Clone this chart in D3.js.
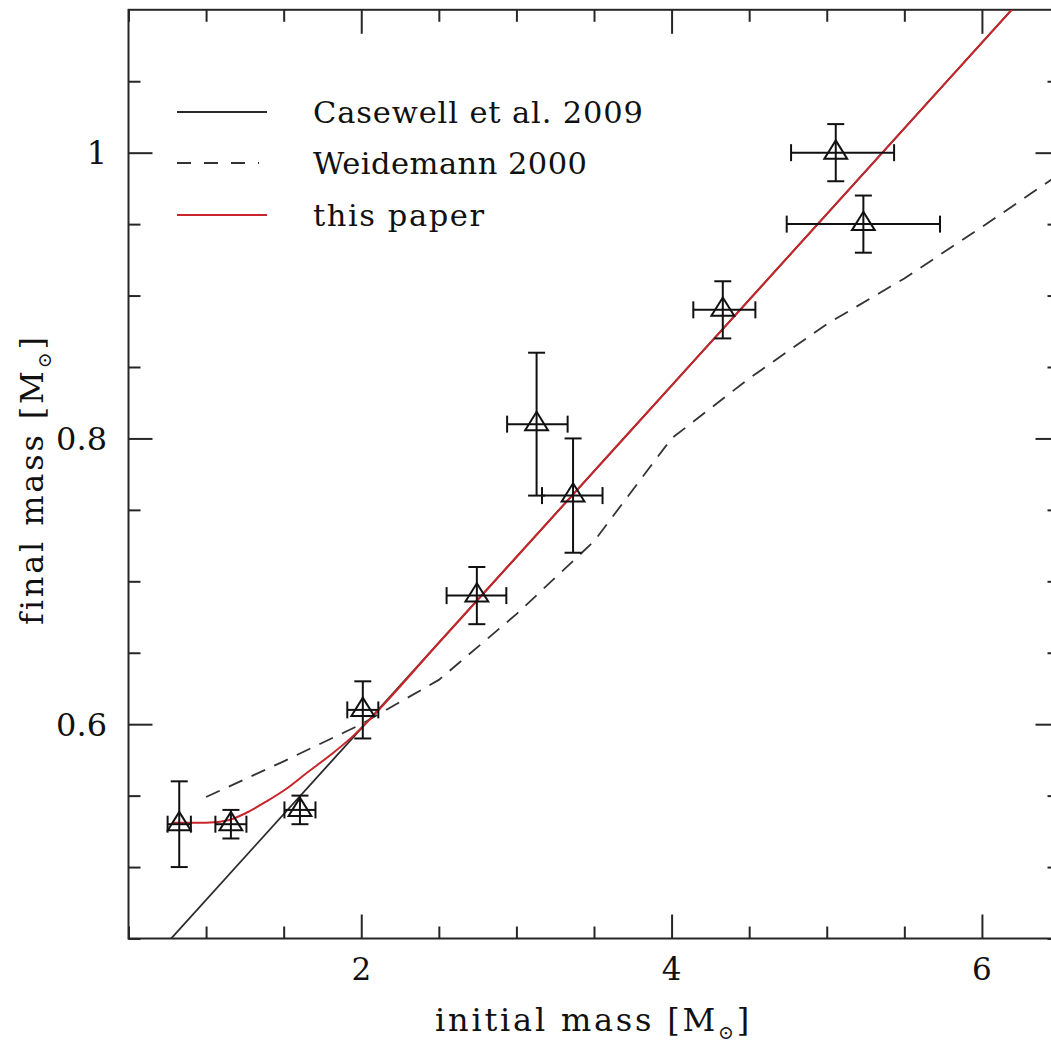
<!DOCTYPE html>
<html><head><meta charset="utf-8">
<script src="https://cdn.jsdelivr.net/npm/d3@7"></script>
<style>body{margin:0;background:#fff}svg{display:block}</style>
</head><body>
<svg id="c" width="1051" height="1043"></svg>
<script>
// ---- data ----
const obsX      = [0.827, 1.16, 1.605, 2.01, 2.745, 3.13, 3.365, 4.33, 5.058, 5.236];
const obsXErrLo = [0.075, 0.10, 0.10, 0.10, 0.195, 0.19, 0.20, 0.19, 0.288, 0.494];
const obsXErrHi = [0.075, 0.10, 0.10, 0.10, 0.190, 0.20, 0.19, 0.21, 0.376, 0.494];
const obsY      = [0.53, 0.53, 0.54, 0.61, 0.69, 0.81, 0.76, 0.89, 1.00, 0.95];
const obsYErr   = [0.03, 0.01, 0.01, 0.02, 0.02, 0.05, 0.04, 0.02, 0.02, 0.02];

const casewellX = [0.5, 6.5];
const casewellY = [0.417, 1.137];

const weidemannX = [1.0, 1.5, 2.0, 2.5, 3.0, 3.5, 4.0, 4.5, 5.0, 5.5, 6.0, 6.5];
const weidemannY = [0.549, 0.574, 0.600, 0.631, 0.677, 0.728, 0.800, 0.842, 0.880, 0.912, 0.948, 0.985];

const thisX = [0.785, 1.0, 1.15, 1.26, 1.39, 1.52, 1.65, 1.82, 1.95, 2.06, 2.5, 3.0, 4.0, 5.0, 6.5];
const thisY = [0.531, 0.531, 0.533, 0.538, 0.546, 0.555, 0.566, 0.580, 0.592, 0.604, 0.657, 0.717, 0.837, 0.957, 1.137];

const xMajor = [2, 4, 6];
const xMinor = [0.5, 1, 1.5, 2.5, 3, 3.5, 4.5, 5, 5.5, 6.5];
const yMajor = [0.6, 0.8, 1.0];
const yMinor = [0.45, 0.5, 0.55, 0.65, 0.7, 0.75, 0.85, 0.9, 0.95, 1.05];
const xTickLabels = ["2", "4", "6"];
const yTickLabels = ["0.6", "0.8", "1"];

const legendLabels = ["Casewell et al. 2009", "Weidemann 2000", "this paper"];
const xTitle = "initial mass";
const yTitle = "final mass";

// ---- layout ----
const svg = d3.select("#c");
const x = d3.scaleLinear().domain([0.5, 6.5]).range([128.5, 1059.5]);
const y = d3.scaleLinear().domain([0.45, 1.1]).range([938.5, 9.8]);
const FONT = "'DejaVu Serif', serif";
const AX = "#262626", RED = "#c8262b", DARK = "#2a2a2a";

svg.append("defs").append("clipPath").attr("id", "clip")
  .append("rect").attr("x", x(0.5)).attr("y", y(1.1))
  .attr("width", x(6.5) - x(0.5)).attr("height", y(0.45) - y(1.1));

// frame
svg.append("rect").attr("x", x(0.5)).attr("y", y(1.1))
  .attr("width", x(6.5) - x(0.5)).attr("height", y(0.45) - y(1.1))
  .attr("fill", "none").attr("stroke", AX).attr("stroke-width", 2);

// ticks (inward, all four sides)
const MAJ = 24, MIN = 12;
function xt(vals, len) {
  svg.append("g").call(d3.axisBottom(x).tickValues(vals).tickSize(-len).tickFormat(""))
    .attr("transform", `translate(0,${y(0.45)})`).call(g => g.select(".domain").remove())
    .selectAll("line").attr("stroke", AX).attr("stroke-width", 2);
  svg.append("g").call(d3.axisTop(x).tickValues(vals).tickSize(-len).tickFormat(""))
    .attr("transform", `translate(0,${y(1.1)})`).call(g => g.select(".domain").remove())
    .selectAll("line").attr("stroke", AX).attr("stroke-width", 2);
}
function yt(vals, len) {
  svg.append("g").call(d3.axisLeft(y).tickValues(vals).tickSize(-len).tickFormat(""))
    .attr("transform", `translate(${x(0.5)},0)`).call(g => g.select(".domain").remove())
    .selectAll("line").attr("stroke", AX).attr("stroke-width", 2);
  svg.append("g").call(d3.axisRight(y).tickValues(vals).tickSize(-len).tickFormat(""))
    .attr("transform", `translate(${x(6.5)},0)`).call(g => g.select(".domain").remove())
    .selectAll("line").attr("stroke", AX).attr("stroke-width", 2);
}
xt(xMajor, MAJ); xt(xMinor, MIN); yt(yMajor, MAJ); yt(yMinor, MIN);

// tick labels
svg.append("g").selectAll("text").data(xMajor).join("text")
  .attr("x", d => x(d)).attr("y", 980).attr("text-anchor", "middle")
  .attr("font-family", FONT).attr("font-size", 31).attr("fill", "#111")
  .text((d, i) => xTickLabels[i]);
svg.append("g").selectAll("text").data(yMajor).join("text")
  .attr("x", 107).attr("y", d => y(d) + 11.5).attr("text-anchor", "end")
  .attr("font-family", FONT).attr("font-size", 32).attr("fill", "#111")
  .text((d, i) => yTickLabels[i]);

// axis titles
function title(g, txt, target) {
  const t = g.append("text").attr("font-family", FONT).attr("font-size", 32).attr("fill", "#111");
  t.append("tspan").text(txt + " [M");
  t.append("tspan").attr("font-size", 19).attr("dy", 8).text("\u2299");
  t.append("tspan").attr("dy", -8).text("]");
  const w = t.node().getComputedTextLength();
  const n = (txt + " [M]").length + 1;
  t.attr("letter-spacing", (target - w) / n);
  return t;
}
title(svg.append("g").attr("transform", "translate(435,1031)"), xTitle, 317);
title(svg.append("g").attr("transform", "translate(43,625) rotate(-90)"), yTitle, 290);

// curves
const plot = svg.append("g").attr("clip-path", "url(#clip)");
const lineGen = d3.line().x(d => x(d[0])).y(d => y(d[1]));
plot.append("path").datum(d3.zip(casewellX, casewellY)).attr("d", lineGen)
  .attr("fill", "none").attr("stroke", DARK).attr("stroke-width", 1.8);
plot.append("path").datum(d3.zip(weidemannX, weidemannY)).attr("d", lineGen)
  .attr("fill", "none").attr("stroke", "#333").attr("stroke-width", 1.8)
  .attr("stroke-dasharray", "15,10");
plot.append("path").datum(d3.zip(thisX, thisY))
  .attr("d", d3.line().x(d => x(d[0])).y(d => y(d[1])).curve(d3.curveMonotoneX))
  .attr("fill", "none").attr("stroke", RED).attr("stroke-width", 2);

// data points with error bars
const CAP = 8.5;
const pts = d3.range(obsX.length).map(i => ({x: obsX[i], xl: obsX[i] - obsXErrLo[i], xh: obsX[i] + obsXErrHi[i], y: obsY[i], ye: obsYErr[i]}));
const pg = svg.append("g").attr("stroke", "#111").attr("stroke-width", 2).attr("fill", "none");
pts.forEach(p => {
  const g = pg.append("g");
  g.append("line").attr("x1", x(p.xl)).attr("x2", x(p.xh)).attr("y1", y(p.y)).attr("y2", y(p.y));
  g.append("line").attr("x1", x(p.x)).attr("x2", x(p.x)).attr("y1", y(p.y - p.ye)).attr("y2", y(p.y + p.ye));
  [p.xl, p.xh].forEach(v => g.append("line").attr("x1", x(v)).attr("x2", x(v)).attr("y1", y(p.y) - CAP).attr("y2", y(p.y) + CAP));
  [p.y - p.ye, p.y + p.ye].forEach(v => g.append("line").attr("y1", y(v)).attr("y2", y(v)).attr("x1", x(p.x) - CAP).attr("x2", x(p.x) + CAP));
});
const tri = {draw(ctx) { ctx.moveTo(0, -12.3); ctx.lineTo(11.4, 6); ctx.lineTo(-11.4, 6); ctx.closePath(); }};
pg.selectAll("path.tri").data(pts).join("path").attr("class", "tri")
  .attr("d", d3.symbol().type(tri))
  .attr("transform", d => `translate(${x(d.x)},${y(d.y)})`);

// legend
const legY = [112, 163, 215];
const legStyle = [{c: DARK, d: null}, {c: "#333", d: "14,13"}, {c: RED, d: null}];
const legW = [330, 274, 171];
legendLabels.forEach((lab, i) => {
  svg.append("line").attr("x1", 177).attr("x2", i === 1 ? 259 : 267).attr("y1", legY[i]).attr("y2", legY[i])
    .attr("stroke", legStyle[i].c).attr("stroke-width", 2)
    .attr("stroke-dasharray", legStyle[i].d);
  svg.append("text").attr("x", 313).attr("y", legY[i] + 11)
    .attr("font-family", FONT).attr("font-size", 30.5).attr("fill", "#111")
    .attr("textLength", legW[i]).attr("lengthAdjust", "spacing").text(lab);
});
</script>
</body></html>
